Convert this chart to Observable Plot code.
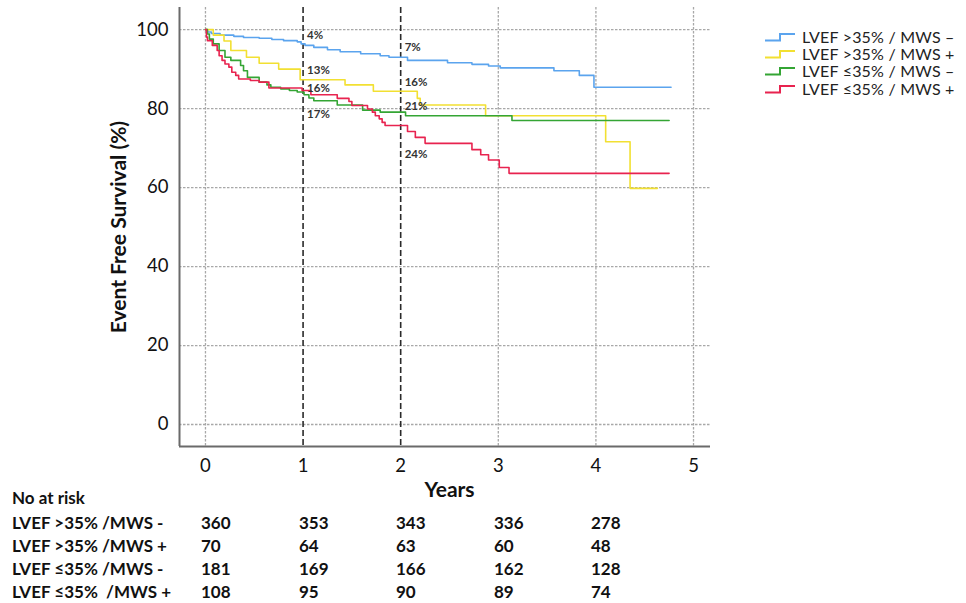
<!DOCTYPE html>
<html><head><meta charset="utf-8">
<script src="https://cdn.jsdelivr.net/npm/d3@7"></script>
<script src="https://cdn.jsdelivr.net/npm/@observablehq/plot@0.6"></script>
<style>
body{margin:0;background:#fff;font-family:Lato,"Open Sans",sans-serif;}
#wrap{position:relative;width:966px;height:603px;overflow:hidden;}
#legend{position:absolute;left:764px;top:28px;font-size:16px;color:#222;}
.li{display:flex;align-items:center;height:17.4px;white-space:pre;}
.li svg{margin-right:6px;flex:none;}
.li span{display:inline-block;height:16px;line-height:16px;letter-spacing:0.2px;}
.rk{position:absolute;white-space:pre;font-weight:700;font-size:17px;color:#111;line-height:20px;}
</style></head><body><div id="wrap"></div>
<script>
// ---- data ----
const seriesNames = ["LVEF >35% / MWS –", "LVEF >35% / MWS +", "LVEF ≤35% / MWS –", "LVEF ≤35% / MWS +"];
const seriesColors = ["#5ba4ee", "#f2e032", "#34a534", "#e8234f"];

const blueT = [0,0.02,0.06,0.15,0.29,0.39,0.55,0.68,0.80,0.94,0.98,1.02,1.11,1.25,1.38,1.59,1.79,1.88,2.07,2.48,2.73,2.90,3.02,3.57,3.83,3.98,4.77];
const blueS = [100,99.4,99.0,98.6,98.3,98.0,97.8,97.5,97.2,96.9,96.4,96.0,95.5,94.9,94.4,93.9,93.4,93.0,92.2,91.6,91.2,90.8,90.3,89.6,88.4,85.4,85.4];

const yellowT = [0,0.08,0.19,0.26,0.42,0.55,0.75,0.97,1.43,1.72,2.17,2.20,2.87,4.10,4.35,4.63];
const yellowS = [100,98.6,97.1,94.7,93.0,91.5,90.0,87.3,86.0,84.4,82.6,80.9,78.2,71.6,59.8,59.8];

const greenT = [0,0.02,0.04,0.08,0.14,0.20,0.26,0.36,0.39,0.43,0.55,0.63,0.67,0.77,0.86,0.94,1.01,1.06,1.11,1.35,1.61,1.79,2.05,3.14,4.75];
const greenS = [100,98.9,97.6,96.4,94.7,93.0,92.2,90.9,89.6,87.9,86.7,86.0,85.4,85.0,84.6,84.2,83.5,82.7,82.0,80.9,79.6,79.1,78.2,77.0,77.0];

const redT = [0,0.01,0.02,0.07,0.12,0.14,0.17,0.20,0.24,0.27,0.31,0.34,0.46,0.55,0.65,0.99,1.08,1.35,1.47,1.50,1.66,1.71,1.74,1.78,1.81,1.84,2.07,2.15,2.25,2.73,2.82,2.90,3.01,3.11,4.75];
const redS = [100,98.1,97.2,96.0,94.7,93.4,92.2,91.3,90.5,89.2,88.4,87.5,87.1,86.7,85.2,84.6,83.5,82.6,81.8,80.8,79.9,79.1,78.2,77.4,76.5,75.7,74.2,72.7,71.2,69.6,68.3,67.0,65.1,63.6,63.6];

const tickYears = [0,1,2,3,4,5];
const tickSurv = [0,20,40,60,80,100];
const markedYears = [1,2];

const noteYear = [1,1,1,1,2,2,2,2];
const noteSurv = [98.5,89.6,85.1,78.5,95.4,86.6,80.5,68.4];
const noteText = ["4%","13%","16%","17%","7%","16%","21%","24%"];

const riskTitle = "No at risk";
const riskLabels = ["LVEF >35% /MWS -", "LVEF >35% /MWS +", "LVEF ≤35% /MWS -", "LVEF ≤35%  /MWS +"];
const riskYears = [0,1,2,3,4];
const riskCounts = [[360,353,343,336,278],[70,64,63,60,48],[181,169,166,162,128],[108,95,90,89,74]];

const xTitle = "Years";
const yTitle = "Event Free Survival (%)";

// ---- build ----
const curveT = [blueT, yellowT, greenT, redT];
const curveS = [blueS, yellowS, greenS, redS];
const rows = [];
seriesNames.forEach((name, i) => {
  curveT[i].forEach((t, j) => rows.push({series: name, t, s: curveS[i][j]}));
});
const notes = noteText.map((text, i) => ({x: noteYear[i], y: noteSurv[i], text}));

const xDom = [-0.266, 5.174];
const yDom = [-5.57, 105.6];
const FONT = "Lato, 'Open Sans', sans-serif";

const plot = Plot.plot({
  width: 966, height: 500,
  marginLeft: 179, marginRight: 256, marginTop: 7, marginBottom: 54,
  style: {fontFamily: FONT, fontSize: "18.5px", color: "#111", background: "transparent", overflow: "visible"},
  x: {domain: xDom, label: null},
  y: {domain: yDom, label: null},
  color: {domain: seriesNames, range: seriesColors},
  marks: [
    Plot.ruleY(tickSurv, {stroke: "#a8a8a8", strokeWidth: 1.3, strokeDasharray: "2.5,1.5"}),
    Plot.ruleX(tickYears.filter(d => !markedYears.includes(d)), {stroke: "#a8a8a8", strokeWidth: 1.3, strokeDasharray: "2.5,1.5"}),
    Plot.ruleX(markedYears, {stroke: "#2a2a2a", strokeWidth: 1.6, strokeDasharray: "6,3"}),
    Plot.line(rows, {x: "t", y: "s", z: "series", stroke: "series", curve: "step-after", strokeWidth: 1.6}),
    Plot.text(notes, {x: "x", y: "y", text: "text", textAnchor: "start", dx: 4, fontSize: 11.5, fontWeight: 700, fill: "#333"}),
    Plot.ruleX([xDom[0]], {stroke: "#6a6a6a", strokeWidth: 2}),
    Plot.ruleY([yDom[0]], {stroke: "#6a6a6a", strokeWidth: 2}),
    Plot.axisX({ticks: tickYears, tickSize: 0, tickPadding: 12, tickFormat: d => String(d), label: null}),
    Plot.axisY({ticks: tickSurv, tickSize: 0, tickPadding: 11, label: null}),
    Plot.text([{x: (tickYears[0] + tickYears[5]) / 2, t: xTitle}], {x: "x", y: () => yDom[0], text: "t", dy: 44, fontWeight: 700, fontSize: 21, fill: "#111"}),
    Plot.text([{y: (tickSurv[0] + tickSurv[5]) / 2, t: yTitle}], {x: () => xDom[0], y: "y", text: "t", dx: -60, rotate: -90, fontWeight: 700, fontSize: 21, fill: "#111"})
  ]
});

const wrap = document.getElementById("wrap");
plot.style.position = "absolute";
plot.style.left = "0px";
plot.style.top = "0px";
wrap.appendChild(plot);

// legend
const legend = document.createElement("div");
legend.id = "legend";
seriesNames.forEach((name, i) => {
  const row = document.createElement("div");
  row.className = "li";
  row.innerHTML = `<svg width="32" height="10"><path d="M1,8.5H16V2H31" fill="none" stroke="${seriesColors[i]}" stroke-width="2"/></svg><span>${name}</span>`;
  legend.appendChild(row);
});
wrap.appendChild(legend);

// number at risk table
const xs = plot.scale("x");
function addText(txt, left, top) {
  const d = document.createElement("div");
  d.className = "rk";
  d.textContent = txt;
  d.style.left = left + "px";
  d.style.top = top + "px";
  wrap.appendChild(d);
}
const rowTop = [513, 536, 559, 582];
addText(riskTitle, 12, 488);
riskLabels.forEach((lab, r) => {
  addText(lab, 12, rowTop[r]);
  riskYears.forEach((yr, c) => {
    addText(String(riskCounts[r][c]), Math.round(xs.apply(yr)) - 4, rowTop[r]);
  });
});
</script></body></html>
